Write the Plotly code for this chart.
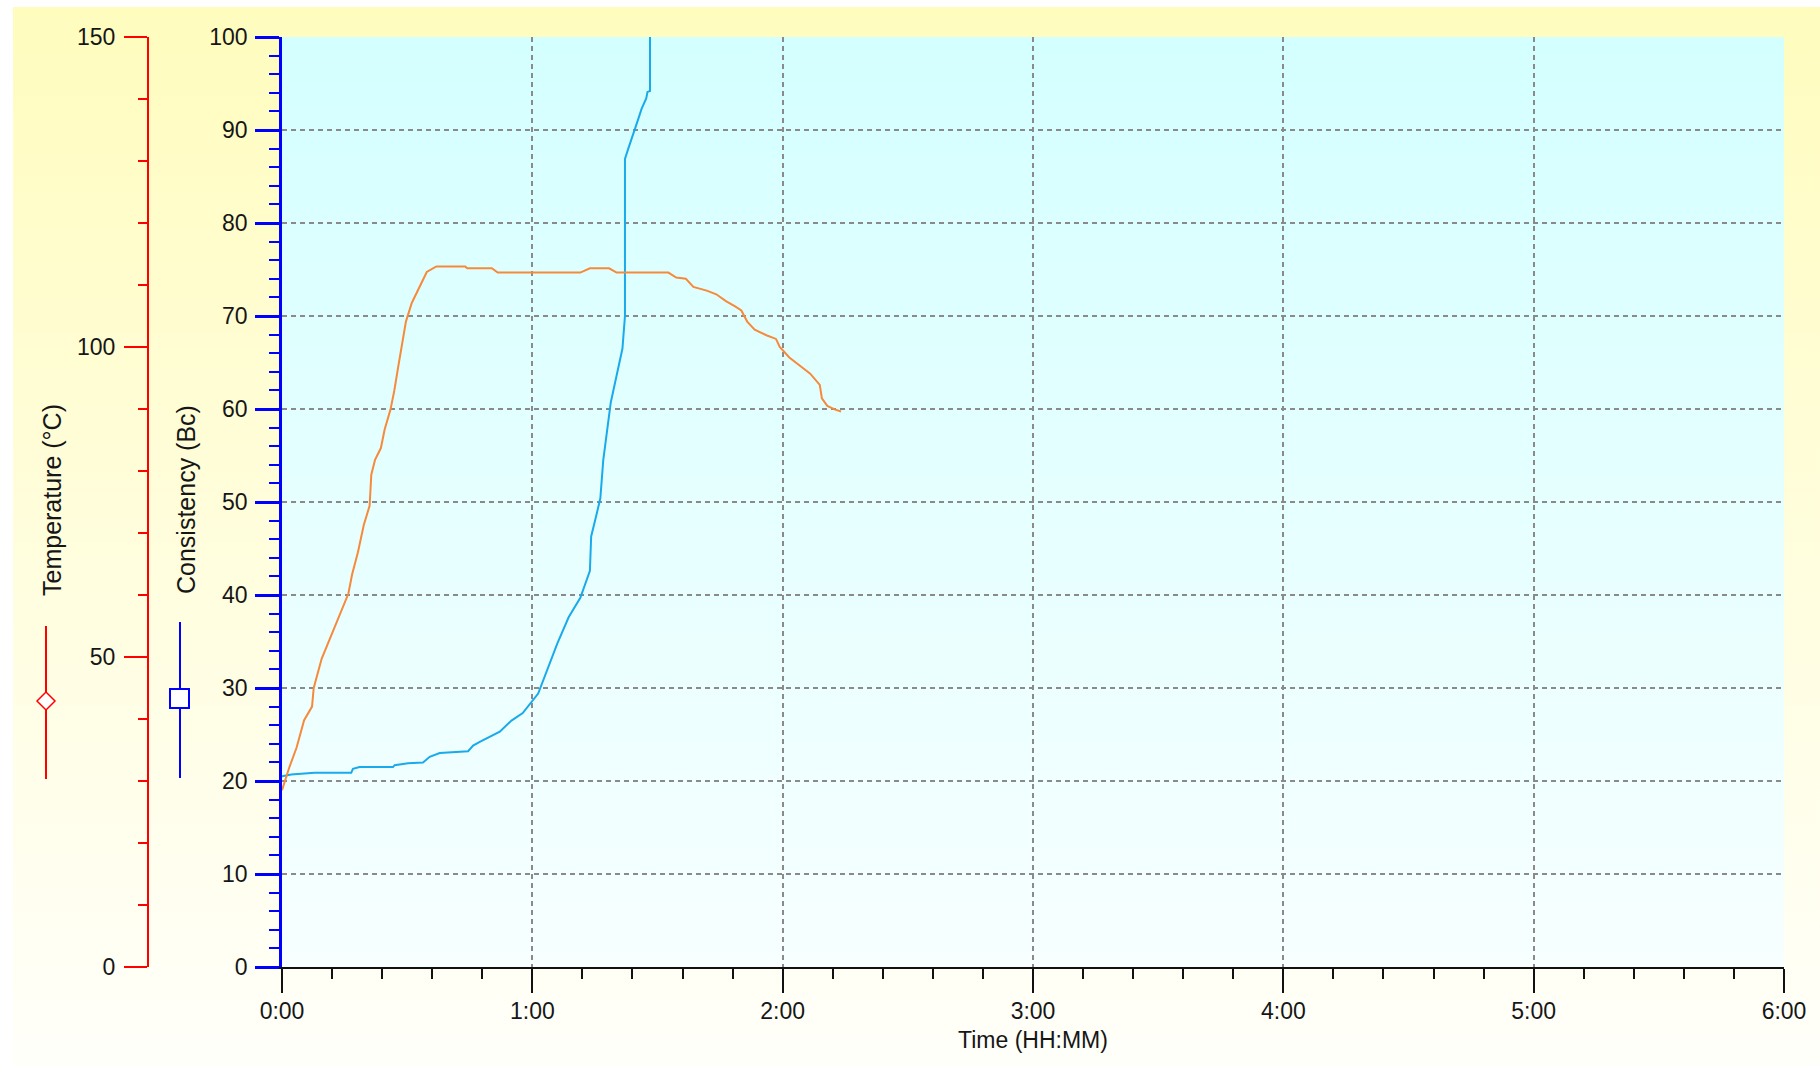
import base64
import plotly.graph_objects as go

W, H = 1820, 1065
FONT = "Liberation Sans, Arial, sans-serif"

# ---------------- data ----------------
# Temperature (°C) vs elapsed time (minutes)
temp_time_min = [0, 1.7, 3.5, 5.3, 7.2, 7.6, 9.5, 11.8, 14.1, 15.9, 16.8, 18.2, 19.6, 21.0,
                 21.4, 22.3, 23.7, 24.6, 26.0, 26.9, 27.8, 28.8, 29.7, 31.1, 32.9, 34.7,
                 37.0, 43.9, 44.4, 50.3, 51.7, 71.5, 73.8, 78.4, 80.2, 92.6, 94.5, 96.8,
                 98.6, 101.8, 104.1, 106.4, 108.7, 110.1, 111.5, 113.3, 116.1, 118.4,
                 119.3, 121.6, 124.3, 126.6, 128.9, 129.4, 130.7, 132.6, 134.0]
temp_c = [28.5, 32.1, 35.4, 39.8, 42.0, 45.0, 49.7, 53.4, 57.0, 60.2, 63.3, 66.9, 71.3, 74.4,
          79.4, 81.8, 83.7, 86.7, 89.9, 92.9, 96.6, 100.4, 104.1, 107.1, 109.7, 112.1,
          113.0, 113.0, 112.7, 112.7, 112.0, 112.0, 112.7, 112.7, 112.0, 112.0, 111.2, 111.0,
          109.7, 109.1, 108.5, 107.4, 106.5, 105.9, 104.1, 102.8, 101.9, 101.3,
          100.0, 98.3, 96.9, 95.7, 93.9, 91.7, 90.5, 89.9, 89.6]

# Consistency (Bc) vs elapsed time (minutes)
cons_time_min = [0, 2.2, 7.8, 16.6, 17.0, 18.6, 26.6, 27.0, 30.2, 33.8, 35.4, 37.8, 44.6,
                 45.8, 47.4, 52.2, 55.0, 57.7, 61.4, 63.2, 66.0, 68.7, 71.5, 73.8, 74.1,
                 75.2, 76.3, 77.0, 77.9, 78.8, 80.2, 81.6, 82.2, 82.2, 83.0, 83.8, 84.6,
                 85.4, 86.2, 87.3, 87.6, 88.2, 88.2]
consistency_bc = [20.5, 20.7, 20.9, 20.9, 21.3, 21.5, 21.5, 21.7, 21.9, 22.0, 22.6, 23.0, 23.2,
                  23.8, 24.2, 25.3, 26.5, 27.3, 29.4, 31.5, 34.8, 37.6, 39.7, 42.6, 46.3,
                  48.3, 50.4, 54.5, 57.8, 60.7, 63.6, 66.5, 70.0, 86.9, 88.0, 89.0, 90.2,
                  91.2, 92.3, 93.4, 94.1, 94.2, 100.0]

x_tick_vals = [0, 60, 120, 180, 240, 300, 360]
x_tick_text = ["0:00", "1:00", "2:00", "3:00", "4:00", "5:00", "6:00"]

# ---------------- helpers ----------------
def px(x):
    return x / W

def py(y):
    return 1 - y / H

def grad_img(top, bottom):
    svg = ("<svg xmlns='http://www.w3.org/2000/svg' width='100' height='100' viewBox='0 0 100 100' "
           "preserveAspectRatio='none'><defs><linearGradient id='g' x1='0' y1='0' x2='0' y2='1'>"
           f"<stop offset='0' stop-color='{top}'/><stop offset='1' stop-color='{bottom}'/>"
           "</linearGradient></defs><rect width='100' height='100' fill='url(#g)'/></svg>")
    return "data:image/svg+xml;base64," + base64.b64encode(svg.encode()).decode()

TXT = "#161616"
GRID = "#8a8a8a"

fig = go.Figure()
fig.add_trace(go.Scatter(x=temp_time_min, y=temp_c, yaxis="y2", mode="lines",
                         line=dict(color="#F7893A", width=2), name="Temperature",
                         hoverinfo="skip"))
fig.add_trace(go.Scatter(x=cons_time_min, y=consistency_bc, yaxis="y", mode="lines",
                         line=dict(color="#19AAEC", width=2), name="Consistency",
                         hoverinfo="skip"))

fig.update_layout(
    width=W, height=H, autosize=False,
    margin=dict(l=0, r=0, t=0, b=0),
    paper_bgcolor="white", plot_bgcolor="rgba(0,0,0,0)",
    showlegend=False,
    font=dict(family=FONT, size=23, color=TXT),
    xaxis=dict(
        domain=[px(282), px(1784)], range=[0, 360], anchor="y",
        tickmode="array", tickvals=x_tick_vals, ticktext=x_tick_text,
        ticks="outside", ticklen=24, tickwidth=2, tickcolor="#111",
        showline=True, linecolor="#111", linewidth=2,
        showgrid=True, gridcolor=GRID, gridwidth=2, griddash="5px,4px",
        zeroline=False, automargin=False, fixedrange=True,
        ticklabelstandoff=-2,
        tickfont=dict(size=23, color=TXT, family=FONT),
        minor=dict(tickmode="linear", tick0=0, dtick=12, ticks="outside", ticklen=10,
                   tickwidth=2, tickcolor="#111", showgrid=False),
    ),
    yaxis=dict(
        domain=[py(967), py(37)], range=[0, 100], anchor="x", side="left",
        tickmode="linear", tick0=0, dtick=10,
        ticks="outside", ticklen=24, tickwidth=2.5, tickcolor="#0000FF",
        showline=True, linecolor="#0000FF", linewidth=2.5,
        showgrid=True, gridcolor=GRID, gridwidth=2, griddash="5px,4px",
        zeroline=False, automargin=False, fixedrange=True,
        ticklabelstandoff=3,
        tickfont=dict(size=23, color=TXT, family=FONT),
        minor=dict(tickmode="linear", tick0=0, dtick=2, ticks="outside", ticklen=10,
                   tickwidth=2, tickcolor="#0000FF", showgrid=False),
    ),
    yaxis2=dict(
        overlaying="y", anchor="free", position=px(148), side="left",
        range=[0, 150], tickmode="linear", tick0=0, dtick=50,
        ticks="outside", ticklen=23, tickwidth=2, tickcolor="#FF0000",
        showline=True, linecolor="#FF0000", linewidth=2,
        showgrid=False, zeroline=False, automargin=False, fixedrange=True,
        ticklabelstandoff=4,
        tickfont=dict(size=23, color=TXT, family=FONT),
        minor=dict(tickmode="linear", tick0=0, dtick=10, ticks="outside", ticklen=9,
                   tickwidth=2, tickcolor="#FF0000", showgrid=False),
    ),
)

# backgrounds
fig.add_layout_image(dict(source=grad_img("#FFFCBE", "#FFFFFA"), xref="paper", yref="paper",
                          x=px(13), y=py(7), sizex=1 - px(13), sizey=py(7),
                          xanchor="left", yanchor="top", sizing="stretch", layer="below"))
fig.add_layout_image(dict(source=grad_img("#D4FFFF", "#F7FFFF"), xref="x", yref="y",
                          x=0, y=100, sizex=360, sizey=100,
                          xanchor="left", yanchor="top", sizing="stretch", layer="below"))

# axis titles
fig.add_annotation(text="Time (HH:MM)", x=px(1033), y=py(1040), xref="paper", yref="paper",
                   showarrow=False, font=dict(size=23, color=TXT, family=FONT),
                   xanchor="center", yanchor="middle")
fig.add_annotation(text="Temperature (°C)", x=px(52), y=py(500), xref="paper", yref="paper",
                   showarrow=False, textangle=-90, font=dict(size=25, color=TXT, family=FONT),
                   xanchor="center", yanchor="middle")
fig.add_annotation(text="Consistency (Bc)", x=px(186), y=py(500), xref="paper", yref="paper",
                   showarrow=False, textangle=-90, font=dict(size=25, color=TXT, family=FONT),
                   xanchor="center", yanchor="middle")

# legend-like symbols beside the axis titles
fig.add_shape(type="line", xref="paper", yref="paper", x0=px(46), x1=px(46), y0=py(626), y1=py(779),
              line=dict(color="#FF0000", width=2))
cx, cy, r = 46, 701, 9
fig.add_shape(type="path", xref="paper", yref="paper",
              path=f"M {px(cx-r)} {py(cy)} L {px(cx)} {py(cy-r)} L {px(cx+r)} {py(cy)} L {px(cx)} {py(cy+r)} Z",
              fillcolor="white", line=dict(color="#FF0000", width=1.5))
fig.add_shape(type="line", xref="paper", yref="paper", x0=px(180), x1=px(180), y0=py(622), y1=py(778),
              line=dict(color="#0000FF", width=2))
fig.add_shape(type="rect", xref="paper", yref="paper", x0=px(170), x1=px(189), y0=py(689), y1=py(708),
              fillcolor="white", line=dict(color="#0000FF", width=2))

fig.write_html("out.html", config={"displayModeBar": False})
